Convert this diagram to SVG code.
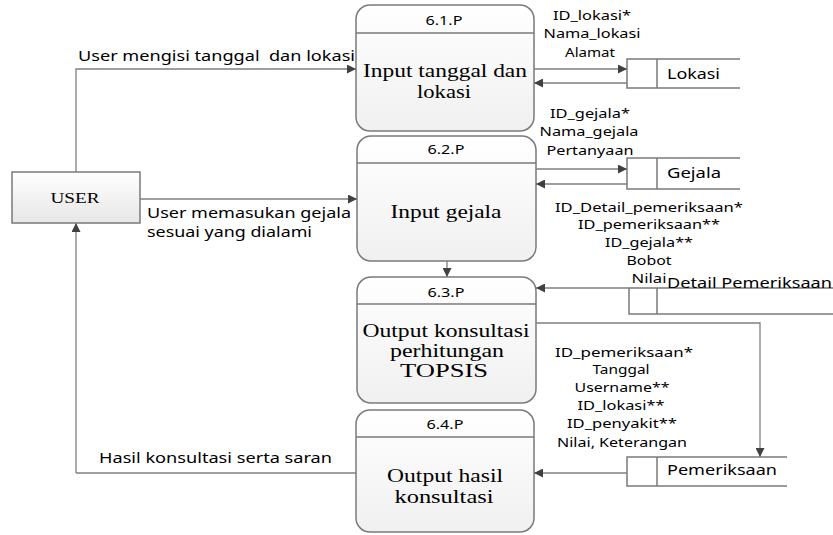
<svg xmlns="http://www.w3.org/2000/svg" width="833" height="535" viewBox="0 0 833 535">
<style>
.proc{fill:url(#pg);stroke:#7a7a7a;stroke-width:1.5}
.div{stroke:#7a7a7a;stroke-width:1.5}
.ser{font-family:"Liberation Serif",serif;font-size:19px;fill:#000;text-anchor:middle}
.hd{font-family:"Noto Sans","Liberation Sans",sans-serif;font-size:13px;fill:#000;text-anchor:middle}
.lb{font-family:"Noto Sans","Liberation Sans",sans-serif;font-size:14px;fill:#000}
.lc{font-family:"Noto Sans","Liberation Sans",sans-serif;font-size:13px;fill:#000;text-anchor:middle}
.st{fill:none;stroke:#7a7a7a;stroke-width:1.5}
.cn{fill:none;stroke:#7f7f7f;stroke-width:1.3;marker-end:url(#ah)}
.ln{fill:none;stroke:#7f7f7f;stroke-width:1.3}
</style>
<defs>
<linearGradient id="pg" x1="0" y1="0" x2="0" y2="1"><stop offset="0" stop-color="#ffffff"/><stop offset="1" stop-color="#f0f0f0"/></linearGradient>
<linearGradient id="ug" x1="0" y1="0" x2="0" y2="1"><stop offset="0" stop-color="#ffffff"/><stop offset="1" stop-color="#e6e6e6"/></linearGradient>
<marker id="ah" viewBox="0 0 10 10" refX="10" refY="5" markerWidth="10" markerHeight="9" markerUnits="userSpaceOnUse" orient="auto"><path d="M0,0L10,5L0,10z" fill="#404040"/></marker>
</defs>
<g id="user">
<rect x="12" y="172" width="128" height="51" fill="url(#ug)" stroke="#7a7a7a" stroke-width="1.5"/>
<text x="75" y="203" font-family="Liberation Serif,serif" font-size="15" text-anchor="middle" textLength="49" lengthAdjust="spacingAndGlyphs">USER</text>
</g>
<g id="p61">
<rect class="proc" x="356" y="5" width="178" height="126" rx="14"/>
<line class="div" x1="356" y1="33" x2="534" y2="33"/>
<text class="hd" x="444" y="25" textLength="37" lengthAdjust="spacingAndGlyphs">6.1.P</text>
<text class="ser" x="445" y="77" textLength="164" lengthAdjust="spacingAndGlyphs">Input tanggal dan</text>
<text class="ser" x="444" y="98" textLength="54" lengthAdjust="spacingAndGlyphs">lokasi</text>
</g>
<g id="p62">
<rect class="proc" x="357" y="136" width="179" height="125" rx="14"/>
<line class="div" x1="357" y1="163" x2="536" y2="163"/>
<text class="hd" x="446" y="154" textLength="37" lengthAdjust="spacingAndGlyphs">6.2.P</text>
<text class="ser" x="446" y="218" textLength="111" lengthAdjust="spacingAndGlyphs">Input gejala</text>
</g>
<g id="p63">
<rect class="proc" x="357" y="277" width="179" height="126" rx="14"/>
<line class="div" x1="357" y1="304" x2="536" y2="304"/>
<text class="hd" x="446" y="297" textLength="37" lengthAdjust="spacingAndGlyphs">6.3.P</text>
<text class="ser" x="446" y="337" textLength="167" lengthAdjust="spacingAndGlyphs">Output konsultasi</text>
<text class="ser" x="447" y="357" textLength="114" lengthAdjust="spacingAndGlyphs">perhitungan</text>
<text class="ser" x="444" y="377" textLength="88" lengthAdjust="spacingAndGlyphs">TOPSIS</text>
</g>
<g id="p64">
<rect class="proc" x="356" y="410" width="178" height="122" rx="14"/>
<line class="div" x1="356" y1="437" x2="534" y2="437"/>
<text class="hd" x="445" y="429" textLength="37" lengthAdjust="spacingAndGlyphs">6.4.P</text>
<text class="ser" x="445" y="482" textLength="116" lengthAdjust="spacingAndGlyphs">Output hasil</text>
<text class="ser" x="444" y="503" textLength="99" lengthAdjust="spacingAndGlyphs">konsultasi</text>
</g>
<g id="lokasi">
<path class="st" d="M740,59H627V88H740M657,59V88"/>
<text class="lb" x="667" y="79" textLength="53" lengthAdjust="spacingAndGlyphs">Lokasi</text>
</g>
<g id="gejala">
<path class="st" d="M740,158H627V189H740M657,158V189"/>
<text class="lb" x="667" y="178" textLength="54" lengthAdjust="spacingAndGlyphs">Gejala</text>
</g>
<g id="detail">
<path class="st" d="M833,288H629V314H833M657,288V314"/>
<text class="lb" x="667" y="288" textLength="165" lengthAdjust="spacingAndGlyphs">Detail Pemeriksaan</text>
</g>
<g id="pemeriksaan">
<path class="st" d="M787,457H627V486H787M657,457V486"/>
<text class="lb" x="667" y="475" textLength="110" lengthAdjust="spacingAndGlyphs">Pemeriksaan</text>
</g>
<g id="connectors">
<path class="cn" d="M76,172V69H356"/>
<path class="cn" d="M140,199H357"/>
<path class="cn" d="M76,473V223"/>
<path class="ln" d="M356,473H76"/>
<path class="cn" d="M534,69H627"/>
<path class="cn" d="M627,83H534"/>
<path class="cn" d="M536,169H627"/>
<path class="cn" d="M627,184H536"/>
<path class="cn" d="M447,261V277"/>
<path class="cn" d="M629,288H536"/>
<path class="cn" d="M536,323H760V457"/>
<path class="cn" d="M627,473H534"/>
</g>
<g id="labels">
<text class="lb" x="78" y="61" xml:space="preserve" textLength="277" lengthAdjust="spacingAndGlyphs">User mengisi tanggal  dan lokasi</text>
<text class="lb" x="147" y="218" textLength="204" lengthAdjust="spacingAndGlyphs">User memasukan gejala</text>
<text class="lb" x="147" y="237" textLength="165" lengthAdjust="spacingAndGlyphs">sesuai yang dialami</text>
<text class="lb" x="99" y="463" textLength="233" lengthAdjust="spacingAndGlyphs">Hasil konsultasi serta saran</text>
<text class="lc" x="592" y="20" textLength="78" lengthAdjust="spacingAndGlyphs">ID_lokasi*</text>
<text class="lc" x="592" y="38" textLength="97" lengthAdjust="spacingAndGlyphs">Nama_lokasi</text>
<text class="lc" x="590" y="57" textLength="50" lengthAdjust="spacingAndGlyphs">Alamat</text>
<text class="lc" x="590" y="118" textLength="80" lengthAdjust="spacingAndGlyphs">ID_gejala*</text>
<text class="lc" x="589" y="136" textLength="99" lengthAdjust="spacingAndGlyphs">Nama_gejala</text>
<text class="lc" x="590" y="155" textLength="87" lengthAdjust="spacingAndGlyphs">Pertanyaan</text>
<text class="lc" x="649" y="212" textLength="188" lengthAdjust="spacingAndGlyphs">ID_Detail_pemeriksaan*</text>
<text class="lc" x="649" y="229" textLength="142" lengthAdjust="spacingAndGlyphs">ID_pemeriksaan**</text>
<text class="lc" x="649" y="247" textLength="88" lengthAdjust="spacingAndGlyphs">ID_gejala**</text>
<text class="lc" x="649" y="265" textLength="45" lengthAdjust="spacingAndGlyphs">Bobot</text>
<text class="lc" x="649" y="283" textLength="35" lengthAdjust="spacingAndGlyphs">Nilai</text>
<text class="lc" x="624" y="357" textLength="138" lengthAdjust="spacingAndGlyphs">ID_pemeriksaan*</text>
<text class="lc" x="621" y="374" textLength="57" lengthAdjust="spacingAndGlyphs">Tanggal</text>
<text class="lc" x="622" y="392" textLength="95" lengthAdjust="spacingAndGlyphs">Username**</text>
<text class="lc" x="621" y="410" textLength="87" lengthAdjust="spacingAndGlyphs">ID_lokasi**</text>
<text class="lc" x="622" y="428" textLength="110" lengthAdjust="spacingAndGlyphs">ID_penyakit**</text>
<text class="lc" x="622" y="447" textLength="130" lengthAdjust="spacingAndGlyphs">Nilai, Keterangan</text>
</g>
</svg>
